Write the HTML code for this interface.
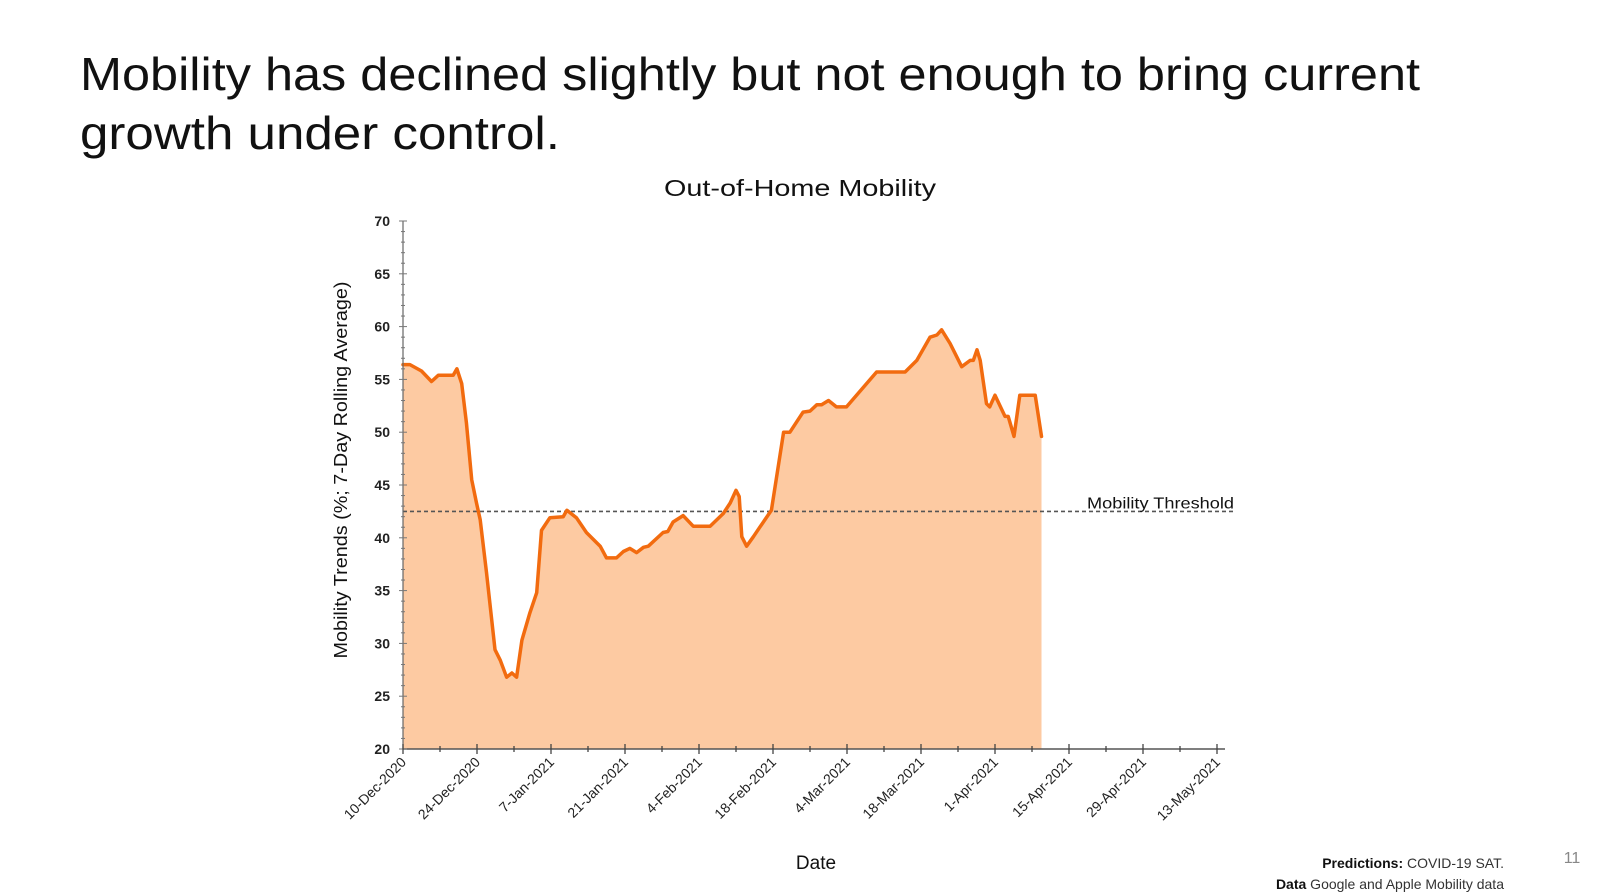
<!DOCTYPE html>
<html><head><meta charset="utf-8"><style>
html,body{margin:0;padding:0;background:#fff;width:1600px;height:895px;overflow:hidden}
svg{display:block;font-family:"Liberation Sans",sans-serif}
</style></head><body>
<svg id="chart" width="1600" height="895" viewBox="0 0 1600 895">
<text x="80" y="90" font-size="46" fill="#111" textLength="1340" lengthAdjust="spacingAndGlyphs">Mobility has declined slightly but not enough to bring current</text>
<text x="80" y="149" font-size="46" fill="#111" textLength="480" lengthAdjust="spacingAndGlyphs">growth under control.</text>
<text x="800" y="196" font-size="23" fill="#111" text-anchor="middle" textLength="272" lengthAdjust="spacingAndGlyphs">Out-of-Home Mobility</text>
<text transform="translate(347,470) rotate(-90)" font-size="18" fill="#111" text-anchor="middle" textLength="377" lengthAdjust="spacingAndGlyphs">Mobility Trends (%; 7-Day Rolling Average)</text>
<text x="816" y="869" font-size="19" fill="#111" text-anchor="middle">Date</text>
<g id="plot"></g>
<text x="1504" y="868" font-size="14" fill="#333" text-anchor="end"><tspan font-weight="bold" fill="#111">Predictions:</tspan> COVID-19 SAT.</text>
<text x="1504" y="889" font-size="14" fill="#333" text-anchor="end"><tspan font-weight="bold" fill="#111">Data</tspan> Google and Apple Mobility data</text>
<text x="1572" y="863" font-size="16" fill="#888" text-anchor="middle">11</text>
</svg>
<script>
const dayOffsets=[0,1.3,3.5,5.4,6.7,9.5,10.2,11.1,12,13,13.9,14.6,15.8,17.4,18.4,19.6,20.6,21.5,22.5,24,25.3,26.2,27.8,30.3,31,32.8,34.7,37.3,38.5,40.4,41.7,42.9,44.2,45.5,46.4,49.2,50.1,51.1,53,54.9,58.1,60.6,61.9,63,63.6,64.1,65,66.3,67.5,69.7,72,73.2,75.7,77,78.3,79.2,80.5,82,83.9,89.6,95,97.2,99.7,101,101.9,103.5,105.7,107.3,107.9,108.6,109.2,110.4,111,112,113.9,114.5,115.6,116.7,119.6,120.8];
const mobilityValues=[56.4,56.4,55.8,54.8,55.4,55.4,56.0,54.6,50.9,45.5,43.3,41.7,36.7,29.4,28.4,26.8,27.2,26.8,30.3,32.9,34.8,40.7,41.9,42.0,42.6,41.9,40.5,39.2,38.1,38.1,38.7,39.0,38.6,39.1,39.2,40.5,40.6,41.5,42.1,41.1,41.1,42.3,43.3,44.5,43.9,40.1,39.2,40.1,41.0,42.6,50.0,50.0,51.9,52.0,52.6,52.6,53.0,52.4,52.4,55.7,55.7,56.8,59.0,59.2,59.7,58.4,56.2,56.8,56.8,57.8,56.8,52.7,52.4,53.5,51.5,51.5,49.6,53.5,53.5,49.6];
const xTickLabels=["10-Dec-2020","24-Dec-2020","7-Jan-2021","21-Jan-2021","4-Feb-2021","18-Feb-2021","4-Mar-2021","18-Mar-2021","1-Apr-2021","15-Apr-2021","29-Apr-2021","13-May-2021"];
const yTickValues=[20,25,30,35,40,45,50,55,60,65,70];
const thresholdValue=[42.5];

const NS="http://www.w3.org/2000/svg";
const X0=403,X1=1217,Y0=749,Y1=221,DMAX=154,VMIN=20,VMAX=70;
const xs=d=>X0+(X1-X0)*d/DMAX;
const ys=v=>Y0-(Y0-Y1)*(v-VMIN)/(VMAX-VMIN);
const g=document.getElementById('plot');
function mk(t,a){const e=document.createElementNS(NS,t);for(const k in a)e.setAttribute(k,a[k]);g.appendChild(e);return e;}

let pts=dayOffsets.map((d,i)=>xs(d).toFixed(1)+','+ys(mobilityValues[i]).toFixed(1));
const area=mk('path',{d:'M'+xs(dayOffsets[0])+','+Y0+' L'+pts.join(' L')+' L'+xs(dayOffsets[dayOffsets.length-1])+','+Y0+' Z',fill:'#fdcaa2'});



const th=mk('line',{x1:X0,x2:1234,y1:ys(thresholdValue[0]),y2:ys(thresholdValue[0]),stroke:'#555',"stroke-width":1.6,"stroke-dasharray":"4,3"});


const tl=mk('text',{x:1087,y:ys(thresholdValue[0])-3,"font-size":16,fill:'#111',textLength:147,lengthAdjust:'spacingAndGlyphs'});
tl.textContent='Mobility Threshold';



const ln=mk('polyline',{points:pts.join(' '),fill:'none',stroke:'#f26b0f',"stroke-width":3.5,"stroke-linejoin":"round","stroke-linecap":"round"});



const ya=mk('line',{x1:X0,x2:X0,y1:Y1,y2:Y0,stroke:'#666',"stroke-width":1.2});


const xa=mk('line',{x1:X0,x2:X1+8,y1:Y0,y2:Y0,stroke:'#555',"stroke-width":1.6});


for(let v=VMIN;v<=VMAX;v++){mk('line',{x1:X0-(v%5?2:4),x2:X0+(v%5?2:4),y1:ys(v),y2:ys(v),stroke:'#777',"stroke-width":1});}
yTickValues.forEach(v=>{
 const t=mk('text',{x:X0-13,y:ys(v)+5,"font-size":14,"font-weight":"bold",fill:'#222',"text-anchor":"end"});
 t.textContent=v;
 
 
});
for(let d=0;d<=DMAX;d+=7){mk('line',{x1:xs(d),x2:xs(d),y1:Y0-(d%14?3:5),y2:Y0+(d%14?3:5),stroke:'#444',"stroke-width":1.3});}
xTickLabels.forEach((s,i)=>{
 const x=xs(i*14),y=Y0+14;
 const t=mk('text',{transform:`translate(${x+4},${y}) rotate(-45)`,"font-size":14,fill:'#222',"text-anchor":"end"});
 t.textContent=s;
 
 
});
</script>
</body></html>
